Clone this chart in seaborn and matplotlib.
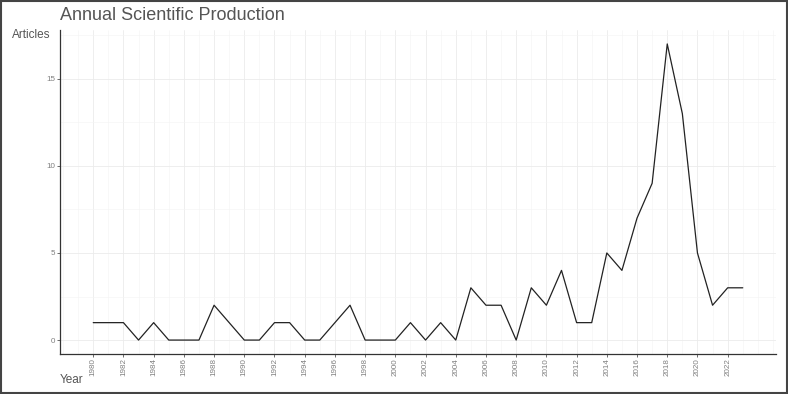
import numpy as np
import pandas as pd
import matplotlib
matplotlib.use('Agg')
import matplotlib.pyplot as plt
import seaborn as sns
from matplotlib.ticker import MultipleLocator

# Data
years = list(range(1980, 2024))
articles = [1, 1, 1, 0, 1, 0, 0, 0, 2, 1,
            0, 0, 1, 1, 0, 0, 1, 2, 0, 0,
            0, 1, 0, 1, 0, 3, 2, 2, 0, 3,
            2, 4, 1, 1, 5, 4, 7, 9, 17, 13,
            5, 2, 3, 3]
x_ticks = list(range(1980, 2024, 2))

df = pd.DataFrame({'Year': years, 'Articles': articles})

sns.set_theme(style='white')
plt.rcParams['font.family'] = ['Liberation Sans', 'DejaVu Sans']

fig = plt.figure(figsize=(7.88, 3.94), dpi=100)
ax = fig.add_axes([60 / 788, 40 / 394, 716 / 788, 324 / 394])

sns.lineplot(data=df, x='Year', y='Articles', color='#222222', linewidth=0.9, ax=ax)

ax.set_xlim(1977.8, 2025.2)
ax.set_ylim(-0.8, 17.8)
ax.set_xticks(x_ticks)
ax.set_xticklabels([str(t) for t in x_ticks], rotation=90)
ax.xaxis.set_minor_locator(MultipleLocator(1))
ax.set_yticks([0, 5, 10, 15])
ax.yaxis.set_minor_locator(MultipleLocator(2.5))

ax.grid(which='major', color='#ebebeb', linewidth=0.6)
ax.grid(which='minor', color='#f4f4f4', linewidth=0.4)
ax.set_axisbelow(True)

for side in ['top', 'right']:
    ax.spines[side].set_visible(False)
for side in ['left', 'bottom']:
    ax.spines[side].set_color('#333333')
    ax.spines[side].set_linewidth(0.9)

ax.tick_params(axis='both', which='major', labelsize=5.8, labelcolor='#7f7f7f',
               color='#333333', length=2, width=0.5, pad=1.2, left=True, bottom=True)
ax.tick_params(axis='both', which='minor', length=0)

ax.set_xlabel('')
ax.set_ylabel('')
fig.text(12 / 788, 1 - 35 / 394, 'Articles', fontsize=8.5, color='#555555', va='center', ha='left')
fig.text(60 / 788, 1 - 380 / 394, 'Year', fontsize=8.5, color='#555555', va='center', ha='left')
fig.text(60 / 788, 1 - 16 / 394, 'Annual Scientific Production', fontsize=13, color='#555555',
         va='center', ha='left')

# frame around the whole image
fig.patches.append(plt.Rectangle((0.001, 0.002), 0.998, 0.996, transform=fig.transFigure,
                                 fill=False, edgecolor='#444444', linewidth=1.5))

fig.savefig('out.png', dpi=100)
